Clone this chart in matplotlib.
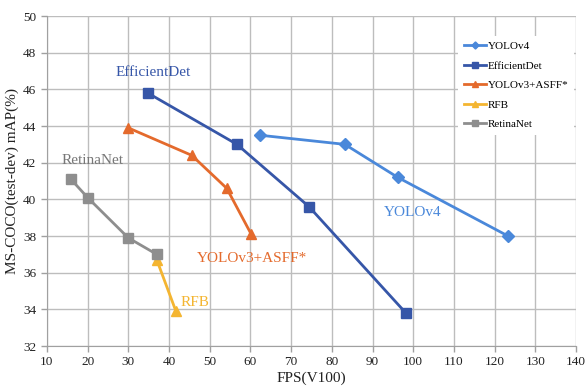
import matplotlib
matplotlib.use("Agg")
import matplotlib.pyplot as plt

yolov4_x = [62.3, 83.2, 96.2, 123.3]
yolov4_y = [43.5, 43.0, 41.2, 38.0]
effdet_x = [34.8, 56.7, 74.4, 98.2]
effdet_y = [45.8, 43.0, 39.6, 33.8]
asff_x = [30.0, 45.6, 54.2, 60.2]
asff_y = [43.9, 42.4, 40.6, 38.1]
rfb_x = [37.0, 41.7]
rfb_y = [36.7, 33.9]
retina_x = [15.9, 20.0, 30.0, 37.0]
retina_y = [41.1, 40.1, 37.9, 37.0]

xticks = list(range(10, 141, 10))
yticks = list(range(32, 51, 2))

c_yolo = "#4A88DA"
c_eff = "#3656A8"
c_asff = "#E46A2C"
c_rfb = "#F4B531"
c_ret = "#8E8E8E"

plt.rcParams['font.family'] = ['Liberation Serif', 'DejaVu Serif']

fig = plt.figure(figsize=(5.86, 3.91), dpi=100)
ax = fig.add_axes([0.080, 0.115, 0.903, 0.844])

lw = 2.0
ax.plot(yolov4_x, yolov4_y, color=c_yolo, lw=lw, marker='D', ms=6, label='YOLOv4', zorder=3)
ax.plot(effdet_x, effdet_y, color=c_eff, lw=lw, marker='s', ms=7, label='EfficientDet', zorder=3)
ax.plot(asff_x, asff_y, color=c_asff, lw=lw, marker='^', ms=7, label='YOLOv3+ASFF*', zorder=3)
ax.plot(rfb_x, rfb_y, color=c_rfb, lw=lw, marker='^', ms=7, label='RFB', zorder=3)
ax.plot(retina_x, retina_y, color=c_ret, lw=lw, marker='s', ms=7, label='RetinaNet', zorder=3)

ax.set_xlim(10, 140)
ax.set_ylim(32, 50)
ax.set_xticks(xticks)
ax.set_yticks(yticks)
ax.grid(True, color='#BDBDBD', lw=1.0, zorder=0)
ax.set_axisbelow(True)
for s in ax.spines.values():
    s.set_visible(False)
ax.spines['left'].set_visible(True)
ax.spines['bottom'].set_visible(True)
ax.spines['left'].set_color('#A0A0A0')
ax.spines['bottom'].set_color('#A0A0A0')
ax.tick_params(axis='both', labelsize=9.5, colors='#A0A0A0', labelcolor='#222222', length=4, width=1)

ax.set_xlabel('FPS(V100)', fontsize=11, color='#222222', labelpad=2)
ax.set_ylabel('MS-COCO(test-dev) mAP(%)', fontsize=11, color='#222222', labelpad=3)

ax.text(36.0, 46.9, 'EfficientDet', color=c_eff, fontsize=11, ha='center', va='center')
ax.text(21.1, 42.1, 'RetinaNet', color='#777777', fontsize=11, ha='center', va='center')
ax.text(99.9, 39.3, 'YOLOv4', color=c_yolo, fontsize=11, ha='center', va='center')
ax.text(60.4, 36.75, 'YOLOv3+ASFF*', color=c_asff, fontsize=11, ha='center', va='center')
ax.text(46.4, 34.4, 'RFB', color=c_rfb, fontsize=11, ha='center', va='center')

leg = ax.legend(loc='upper right', bbox_to_anchor=(0.997, 0.940), fontsize=8, frameon=True,
                fancybox=False, edgecolor='white', facecolor='white', framealpha=1,
                handlelength=2.0, handletextpad=0.2, labelspacing=0.88, borderpad=0.5,
                borderaxespad=0.0, markerscale=0.6)
leg.get_frame().set_linewidth(0)

fig.savefig('out.png', dpi=100)
